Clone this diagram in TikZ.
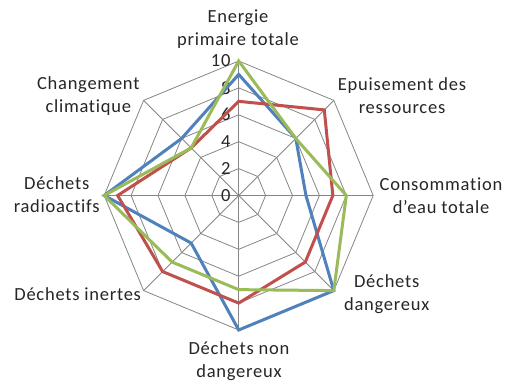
\documentclass[tikz,border=0pt]{standalone}
\usepackage{fontspec}
\setmainfont[LetterSpace=4,Ligatures=NoCommon]{Carlito}
\usetikzlibrary{positioning}
\definecolor{gridgray}{HTML}{868686}
\definecolor{seriesblue}{HTML}{4F81BD}
\definecolor{seriesred}{HTML}{C0504D}
\definecolor{seriesgreen}{HTML}{9BBB59}
\tikzset{
  gridline/.style={draw=gridgray, line width=0.8pt},
  series/.style={line width=3pt, line join=miter},
  axislabel/.style={align=center, text=black!85, inner sep=0pt,
    font=\fontsize{18.5}{23}\selectfont},
  ticklabel/.style={anchor=east, text=black!85, inner sep=0pt,
    font=\fontsize{18.5}{23}\selectfont}
}

\begin{document}
\begin{tikzpicture}[x=1pt,y=1pt]
  \useasboundingbox (0,0) rectangle (506,382);
  \fill[white] (0,0) rectangle (506,382);

  \begin{scope}[shift={(238.7,186.5)},x=13.45pt,y=13.45pt]
    %% rings and spokes
    \foreach \r in {2,4,...,10}
      \draw[gridline] (90:\r)--(45:\r)--(0:\r)--(-45:\r)--(-90:\r)
        --(-135:\r)--(180:\r)--(135:\r)--cycle;
    \foreach \a in {90,45,0,-45,-90,-135,180,135}
      \draw[gridline] (0,0) -- (\a:10);

    %% values on the axis
    \foreach \r in {0,2,...,10}
      \node[ticklabel] (tick\r) at (-0.6,\r) {\r};

    %% blue
    \draw[series, seriesblue]
    (90:9)--(45:6)--(0:5)--(-45:10)--(-90:10)
    --(-135:5)--(180:10)--(135:6)--cycle;

    %% red
    \draw[series, seriesred]
    (90:7)--(45:9)--(0:7)--(-45:7)--(-90:8)
    --(-135:8)--(180:9)--(135:5)--cycle;

    %% green
    \draw[series, seriesgreen]
    (90:10)--(45:6)--(0:8)--(-45:10)--(-90:7)
    --(-135:7)--(180:10)--(135:5)--cycle;
  \end{scope}

  %% labels
  \node[axislabel] (energie) at (238,352.5) {Energie\\primaire totale};
  \node[axislabel] (epuisement) at (402,286.5) {Epuisement des\\ressources};
  \node[axislabel] (eau) at (441,186.5) {Consommation\\d'eau totale};
  \node[axislabel] (dangereux) at (386.7,88) {Déchets\\dangereux};
  \node[axislabel] (nondangereux) at (239,21) {Déchets non\\dangereux};
  \node[axislabel] (inertes) at (77.7,88) {Déchets inertes};
  \node[axislabel] (radioactifs) at (56.7,187) {Déchets\\radioactifs};
  \node[axislabel] (climatique) at (88.3,286) {Changement\\climatique};
\end{tikzpicture}
\end{document}
